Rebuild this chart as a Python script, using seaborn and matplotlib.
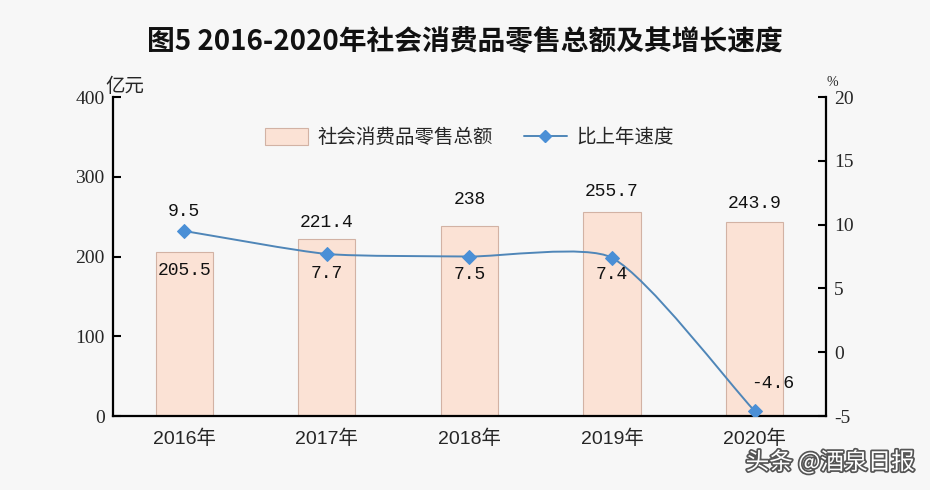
import numpy as np
import pandas as pd
import matplotlib
matplotlib.use('Agg')
import matplotlib.pyplot as plt
import seaborn as sns
from matplotlib.path import Path
from matplotlib.patches import PathPatch, Patch
from matplotlib.lines import Line2D
import matplotlib.patheffects as pe

# Data
years = ['2016年', '2017年', '2018年', '2019年', '2020年']
sales = [205.5, 221.4, 238, 255.7, 243.9]          # 亿元
growth = [9.5, 7.7, 7.5, 7.4, -4.6]                # %
sales_labels = ['205.5', '221.4', '238', '255.7', '243.9']
growth_labels = ['9.5', '7.7', '7.5', '7.4', '-4.6']

sns.set_theme(style='white')
plt.rcParams['font.family'] = ['Liberation Sans', 'Noto Sans CJK SC', 'DejaVu Sans']
plt.rcParams['axes.unicode_minus'] = False

bg = '#f7f7f7'
bar_color = '#fbe2d5'
bar_edge = '#d2b2a4'
line_color = '#4f86b8'
marker_color = '#4a8fd6'
cjk = ['Noto Sans CJK SC', 'DejaVu Sans']
num_font = ['Liberation Mono', 'DejaVu Sans Mono']
serif = ['Liberation Serif', 'DejaVu Serif']

fig = plt.figure(figsize=(9.3, 4.9), dpi=100, facecolor=bg)
ax_rect = [0.1215, 0.151, 0.7665, 0.651]
ax = fig.add_axes(ax_rect)
ax.set_facecolor(bg)

df = pd.DataFrame({'year': years, 'sales': sales, 'growth': growth})
sns.barplot(data=df, x='year', y='sales', ax=ax, color=bar_color, width=0.4,
            edgecolor=bar_edge, linewidth=0.8, saturation=1)
ax.set_xlim(-0.5, len(years) - 0.5)
ax.set_ylim(0, 400)
ax.set_yticks([0, 100, 200, 300, 400])
ax.set_xlabel('')
ax.set_ylabel('')

# x ticks at category boundaries, labels at centers
ax.set_xticks(np.arange(len(years)))
ax.set_xticklabels(years, fontsize=14)
ax.set_xticks(np.arange(len(years) + 1) - 0.5, minor=True)
ax.tick_params(axis='x', which='major', length=0, pad=10)
ax.tick_params(axis='x', which='minor', direction='in', length=6, width=1.5, color='black')
ax.tick_params(axis='y', direction='in', length=6, width=1.5, color='black', pad=6)
for lab in ax.get_yticklabels():
    lab.set_family(serif)
    lab.set_fontsize(14)

for side in ['left', 'bottom', 'right']:
    ax.spines[side].set_visible(True)
    ax.spines[side].set_color('black')
    ax.spines[side].set_linewidth(1.6)
ax.spines['top'].set_visible(False)

# bar value labels
bar_offsets = [-13, 12, 19, 15, 13]
for i, (v, t) in enumerate(zip(sales, sales_labels)):
    ax.annotate(t, (i, v), xytext=(0, bar_offsets[i]), textcoords='offset points',
                ha='center', va='center', fontsize=13, family=num_font, color='#111111')

# secondary axis
ax2 = ax.twinx()
ax2.set_ylim(-5, 20)
ax2.set_yticks([-5, 0, 5, 10, 15, 20])
ax2.tick_params(axis='y', direction='in', length=6, width=1.5, color='black', pad=6)
for lab in ax2.get_yticklabels():
    lab.set_family(serif)
    lab.set_fontsize(14)
for side in ['left', 'bottom', 'right', 'top']:
    ax2.spines[side].set_visible(False)
ax2.grid(False)
ax.grid(False)

# smoothed line: cubic Bezier, control handles along the Catmull-Rom direction,
# handle length proportional to the adjacent segment (in screen space)
x = np.arange(len(growth), dtype=float)
y = np.array(growth, dtype=float)
px_x = 930 * ax_rect[2] / len(years)
px_y = 490 * ax_rect[3] / 25
pts = np.column_stack([x * px_x, y * px_y])
ext = np.vstack([2 * pts[0] - pts[1], pts, 2 * pts[-1] - pts[-2]])
k = 0.2
ctrl_in, ctrl_out = [], []
for i in range(1, len(ext) - 1):
    d = ext[i + 1] - ext[i - 1]
    u = d / np.hypot(*d)
    l_in = np.hypot(*(ext[i] - ext[i - 1]))
    l_out = np.hypot(*(ext[i + 1] - ext[i]))
    ctrl_in.append(ext[i] - u * l_in * k)
    ctrl_out.append(ext[i] + u * l_out * k)
scale = np.array([px_x, px_y])
verts = [tuple(pts[0] / scale)]
codes = [Path.MOVETO]
for i in range(len(pts) - 1):
    verts += [tuple(ctrl_out[i] / scale), tuple(ctrl_in[i + 1] / scale), tuple(pts[i + 1] / scale)]
    codes += [Path.CURVE4] * 3
ax2.add_patch(PathPatch(Path(verts, codes), facecolor='none', edgecolor=line_color, lw=1.4, zorder=3))
sns.lineplot(x=x, y=y, ax=ax2, marker='D', markersize=7, linestyle='', color=marker_color,
             markeredgecolor=marker_color, zorder=4)

growth_offsets = [(0, 14), (0, -14), (0, -13), (0, -12), (13, 20)]
for i, (v, t) in enumerate(zip(growth, growth_labels)):
    ax2.annotate(t, (i, v), xytext=growth_offsets[i], textcoords='offset points',
                 ha='center', va='center', fontsize=13, family=num_font, color='#111111')

# axis units
fig.text(105 / 930, 1 - 86 / 490, '亿元', fontsize=14, family=cjk, ha='left', va='center')
fig.text(832 / 930, 1 - 82 / 490, '%', fontsize=10, family=serif, ha='center', va='center')

# legend
handles = [Patch(facecolor=bar_color, edgecolor=bar_edge, linewidth=0.8),
           Line2D([0], [0], color=line_color, lw=1.4, marker='D', markersize=6,
                  markerfacecolor=marker_color, markeredgecolor=marker_color)]
leg = ax.legend(handles, ['社会消费品零售总额', '比上年速度'], loc='upper center',
                bbox_to_anchor=(0.5, 0.96), ncol=2, frameon=False,
                prop={'family': cjk, 'size': 14}, handlelength=2.2, handleheight=1.0,
                columnspacing=1.6, handletextpad=0.5)

# title
fig.text(0.5, 1 - 42 / 490, '图5 2016-2020年社会消费品零售总额及其增长速度', fontsize=20,
         family=cjk, weight='semibold', ha='center', va='center', color='#111111')

# watermark
fig.text(915 / 930, 1 - 462 / 490, '头条 @酒泉日报', fontsize=17, family=cjk, ha='right',
         va='center', color='white',
         path_effects=[pe.withStroke(linewidth=2.5, foreground='#555555')])

fig.savefig('out.png', dpi=100, facecolor=bg)
